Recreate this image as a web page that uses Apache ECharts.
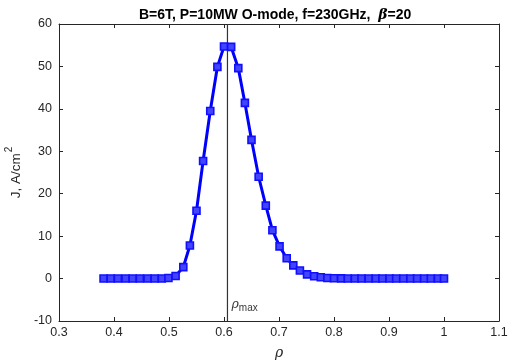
<!DOCTYPE html>
<html><head><meta charset="utf-8">
<script src="https://cdn.jsdelivr.net/npm/echarts@6/dist/echarts.min.js"></script>
<style>html,body{margin:0;padding:0;background:#fff}#c{width:508px;height:362px}</style>
</head><body><div id="c"></div>
<script>
const rho = [0.381,0.394,0.407,0.421,0.434,0.447,0.461,0.474,0.487,0.499,
  0.512,0.526,0.538,0.550,0.562,0.575,0.588,0.600,0.613,0.626,
  0.638,0.650,0.663,0.676,0.688,0.701,0.714,0.726,0.738,0.751,
  0.764,0.776,0.788,0.800,0.813,0.825,0.838,0.850,0.863,0.876,
  0.888,0.901,0.913,0.926,0.939,0.951,0.964,0.976,0.989,1.000];
const J = [0,0,0,0,0,0,0,0,0.02,0.15,
  0.6,2.7,7.8,16.0,27.7,39.5,49.9,54.7,54.6,49.6,
  41.4,32.7,24.0,17.2,11.4,7.6,4.8,3.1,1.9,1.0,
  0.55,0.3,0.15,0.08,0.04,0.02,0.01,0,0,0,
  0,0,0,0,0,0,0,0,0,0];
const rhoMax = 0.6063;
const xTicks = {min:0.3, max:1.1, step:0.1};
const yTicks = {min:-10, max:60, step:10};
const titleText = 'B=6T, P=10MW O-mode, f=230GHz,  ';

const font = 'Liberation Sans, Arial, Helvetica, sans-serif';
const axCol = '#262626';
const chart = echarts.init(document.getElementById('c'), null, {renderer:'canvas'});
const grid = {left:59, right:9, top:24, bottom:41, containLabel:false, outerBoundsMode:'none'};
const fmt = v => String(+v.toFixed(1));
const baseAxis = {
  axisLine:{show:true, onZero:false, lineStyle:{color:axCol, width:1}},
  axisTick:{show:true, inside:true, length:4, lineStyle:{color:axCol}},
  splitLine:{show:false},
};
chart.setOption({
  animation:false,
  backgroundColor:'#fff',
  title:{
    text:'{b|'+titleText+'}{g|β}{b|=20}', left:134, top:3,
    textStyle:{rich:{
      b:{fontFamily:font, fontWeight:'bold', fontSize:14, color:'#000'},
      g:{fontFamily:'DejaVu Serif, serif', fontStyle:'italic', fontSize:14, color:'#000'}
    }}
  },
  grid:grid,
  xAxis:[
    Object.assign({}, baseAxis, {type:'value', min:xTicks.min, max:xTicks.max, interval:xTicks.step,
      position:'bottom',
      axisLabel:{formatter:fmt, color:axCol, fontFamily:font, fontSize:12.5, margin:5},
      name:'ρ', nameLocation:'middle', nameGap:25,
      nameTextStyle:{fontFamily:'DejaVu Serif, serif', fontStyle:'italic', fontSize:14, color:axCol}}),
    Object.assign({}, baseAxis, {type:'value', min:xTicks.min, max:xTicks.max, interval:xTicks.step,
      position:'top', axisLabel:{show:false}})
  ],
  yAxis:[
    Object.assign({}, baseAxis, {type:'value', min:yTicks.min, max:yTicks.max, interval:yTicks.step,
      position:'left',
      axisLabel:{color:axCol, fontFamily:font, fontSize:12.5, margin:7},
      name:'{a|J, A/cm}{s|2}', nameLocation:'middle', nameGap:25,
      nameTextStyle:{rich:{
        a:{fontFamily:font, fontSize:13.5, color:axCol, verticalAlign:'bottom', lineHeight:15},
        s:{fontFamily:font, fontSize:10, color:axCol, verticalAlign:'top', padding:[0,0,9,1]}
      }}}),
    Object.assign({}, baseAxis, {type:'value', min:yTicks.min, max:yTicks.max, interval:yTicks.step,
      position:'right', axisLabel:{show:false}})
  ],
  series:[
    {
      type:'line', xAxisIndex:0, yAxisIndex:0, silent:true,
      data:[[rhoMax, yTicks.min],[rhoMax, yTicks.max]],
      symbol:'none', lineStyle:{color:'#333', width:1.2}, z:1
    },
    {
      type:'line', xAxisIndex:0, yAxisIndex:0,
      data: rho.map((r,i)=>[r, J[i]]),
      lineStyle:{color:'#0000ff', width:3},
      symbol:'rect', symbolSize:7,
      itemStyle:{color:'#4444ff', borderColor:'#1010ff', borderWidth:1.6},
      z:3
    },
    {
      type:'scatter', xAxisIndex:0, yAxisIndex:0, silent:true,
      data:[[rhoMax, yTicks.min]], symbolSize:0,
      label:{show:true, position:'right', offset:[-1,-16],
        formatter:'{r|ρ}{m|max}',
        rich:{
          r:{fontFamily:'DejaVu Serif, serif', fontStyle:'italic', fontSize:12.5, color:'#000'},
          m:{fontFamily:font, fontSize:10, color:'#000', padding:[6,0,0,0]}
        }}
    }
  ]
});
</script></body></html>
